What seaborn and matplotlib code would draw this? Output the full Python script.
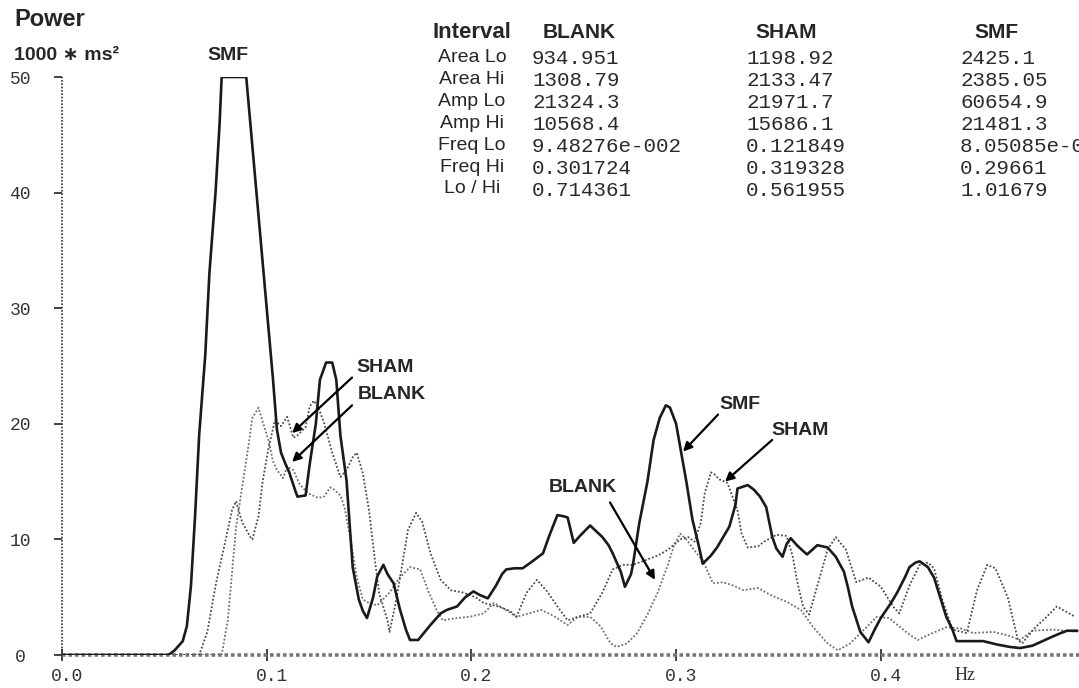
import matplotlib
matplotlib.use("Agg")
import matplotlib.pyplot as plt
from matplotlib.transforms import ScaledTranslation
import pandas as pd
import seaborn as sns

# power spectra: frequency (Hz) / power (1000 * ms^2)
smf_hz = [0.000, 0.052, 0.055, 0.059, 0.061, 0.063, 0.065, 0.067, 0.070, 0.072,
          0.075, 0.077, 0.078, 0.090, 0.092, 0.095, 0.098, 0.101, 0.103, 0.105,
          0.107, 0.109, 0.111, 0.114, 0.115, 0.119, 0.121, 0.124, 0.126, 0.129,
          0.132, 0.134, 0.136, 0.139, 0.142, 0.145, 0.147, 0.149, 0.152, 0.154,
          0.157, 0.159, 0.162, 0.165, 0.168, 0.170, 0.174, 0.180, 0.185, 0.188,
          0.193, 0.197, 0.201, 0.204, 0.208, 0.212, 0.215, 0.217, 0.221, 0.225,
          0.229, 0.235, 0.238, 0.242, 0.245, 0.247, 0.250, 0.253, 0.258, 0.261,
          0.264, 0.267, 0.269, 0.273, 0.275, 0.278, 0.279, 0.282, 0.286, 0.289,
          0.292, 0.295, 0.297, 0.300, 0.302, 0.305, 0.308, 0.311, 0.313, 0.317,
          0.320, 0.323, 0.326, 0.329, 0.330, 0.335, 0.338, 0.341, 0.344, 0.347,
          0.349, 0.352, 0.354, 0.356, 0.359, 0.362, 0.364, 0.369, 0.374, 0.378,
          0.382, 0.384, 0.386, 0.390, 0.394, 0.397, 0.400, 0.405, 0.408, 0.412,
          0.414, 0.417, 0.419, 0.423, 0.426, 0.429, 0.432, 0.435, 0.437, 0.444,
          0.450, 0.457, 0.463, 0.468, 0.474, 0.479, 0.484, 0.488, 0.491, 0.496]
smf_pw = [0, 0, 0.4, 1.2, 2.5, 6, 12, 19, 26, 33,
          40, 46, 50, 50, 46, 40, 34, 28, 24, 19.5,
          17.5, 16.6, 15.8, 14.2, 13.7, 13.8, 16.5, 20, 23.8, 25.3,
          25.3, 23.8, 19, 15.1, 7.6, 4.8, 3.8, 3.2, 5, 6.8,
          7.8, 7, 6.2, 4, 2.2, 1.3, 1.3, 2.6, 3.6, 3.9,
          4.2, 5, 5.5, 5.2, 4.9, 6, 7, 7.4, 7.5, 7.5,
          8, 8.8, 10.3, 12.1, 12, 11.9, 9.7, 10.3, 11.2, 10.7,
          10.2, 9.5, 8.8, 7.2, 5.9, 7, 7.9, 11.4, 15, 18.6,
          20.5, 21.6, 21.4, 20, 18, 15, 11.7, 9.5, 7.9, 8.6,
          9.3, 10.2, 11.1, 13, 14.4, 14.7, 14.3, 13.7, 12.8, 10.2,
          9.2, 8.5, 9.6, 10.1, 9.5, 9.0, 8.7, 9.5, 9.3, 8.5,
          7.2, 5.8, 4.2, 2.0, 1.1, 2.2, 3.2, 4.5, 5.4, 6.8,
          7.6, 8.0, 8.1, 7.6, 6.7, 5.0, 3.3, 2.2, 1.2, 1.2,
          1.2, 0.9, 0.7, 0.6, 0.8, 1.2, 1.6, 1.9, 2.1, 2.1]

sham_hz = [0.000, 0.067, 0.071, 0.075, 0.080, 0.083, 0.085, 0.088, 0.092, 0.093,
           0.096, 0.098, 0.101, 0.104, 0.107, 0.110, 0.113, 0.115, 0.119, 0.121,
           0.123, 0.125, 0.128, 0.132, 0.136, 0.139, 0.142, 0.144, 0.147, 0.150,
           0.153, 0.155, 0.159, 0.160, 0.163, 0.166, 0.169, 0.173, 0.176, 0.180,
           0.185, 0.190, 0.196, 0.202, 0.206, 0.213, 0.219, 0.222, 0.227, 0.232,
           0.237, 0.242, 0.247, 0.252, 0.258, 0.264, 0.269, 0.274, 0.279, 0.285,
           0.291, 0.296, 0.302, 0.306, 0.309, 0.312, 0.314, 0.317, 0.319, 0.321,
           0.325, 0.328, 0.330, 0.332, 0.335, 0.340, 0.343, 0.349, 0.354, 0.357,
           0.359, 0.362, 0.365, 0.369, 0.374, 0.378, 0.383, 0.388, 0.394, 0.400,
           0.406, 0.409, 0.414, 0.419, 0.423, 0.426, 0.430, 0.435, 0.442, 0.447,
           0.452, 0.456, 0.462, 0.467, 0.469, 0.475, 0.481, 0.486, 0.490, 0.495]
sham_pw = [0, 0, 2, 6, 10, 12.5, 13.3, 11.5, 10.2, 10,
           12, 15, 18, 20.3, 19.8, 20.6, 18.8, 19, 19.7, 21.5,
           22, 21.5, 20.1, 17.5, 15.4, 16, 17.1, 17.5, 15.7, 12.5,
           8, 5.3, 3, 2, 4.5, 7.6, 10.8, 12.3, 11.5, 8.8,
           6.5, 5.6, 5.4, 5, 4.5, 4.2, 3.8, 3.3, 5.4, 6.5,
           5.5, 4.2, 3.0, 3.3, 3.6, 5.4, 7.4, 7.8, 7.8, 8.2,
           8.6, 9.1, 10, 10.2, 9.8, 11.4, 14, 15.8, 15.6, 15.2,
           14.9, 13.5, 12.5, 10.5, 9.3, 9.4, 9.8, 10.4, 10.3, 8.5,
           6.5, 4.2, 3.5, 6, 9.1, 10.2, 9.1, 6.3, 6.7, 5.9,
           4.2, 3.6, 6, 7.8, 8.0, 7.5, 4.8, 2.2, 1.9, 5.6,
           7.8, 7.5, 5.0, 1.3, 1.0, 2.3, 3.3, 4.2, 3.8, 3.3]

blank_hz = [0.000, 0.078, 0.081, 0.083, 0.085, 0.088, 0.091, 0.093, 0.096, 0.098,
            0.101, 0.103, 0.105, 0.108, 0.110, 0.113, 0.116, 0.120, 0.125, 0.128,
            0.131, 0.133, 0.136, 0.138, 0.141, 0.144, 0.147, 0.150, 0.154, 0.160,
            0.165, 0.170, 0.175, 0.179, 0.183, 0.186, 0.193, 0.199, 0.206, 0.211,
            0.216, 0.222, 0.228, 0.234, 0.240, 0.247, 0.252, 0.258, 0.263, 0.268,
            0.271, 0.276, 0.281, 0.286, 0.291, 0.296, 0.299, 0.302, 0.305, 0.310,
            0.313, 0.318, 0.323, 0.328, 0.333, 0.340, 0.346, 0.354, 0.361, 0.367,
            0.374, 0.379, 0.385, 0.393, 0.398, 0.404, 0.413, 0.418, 0.424, 0.432,
            0.439, 0.445, 0.455, 0.462, 0.468, 0.474, 0.484, 0.496]
blank_pw = [0, 0, 3, 7, 11, 14.5, 18, 20.5, 21.4, 20.2,
            18.5, 16.8, 16, 15.3, 16.3, 16.0, 14.8, 14, 13.6, 13.7,
            14.5, 14.3, 13.8, 12.8, 10, 6.7, 4.8, 4.5, 4.3, 5.4,
            6.7, 7.6, 7.4, 5.5, 3.9, 3.0, 3.2, 3.3, 3.6, 4.5,
            4.0, 3.3, 3.6, 3.9, 3.4, 2.6, 3.3, 3.3, 2.5, 1.0,
            0.7, 1.0, 1.9, 3.5, 5.4, 7.8, 9.5, 10.5, 10, 8.8,
            8.2, 6.2, 6.3, 6.0, 5.6, 5.8, 5.2, 4.6, 3.9, 2.4,
            1.0, 0.4, 1.0, 2.4, 3.3, 3.2, 1.9, 1.3, 1.8, 2.4,
            2.3, 1.9, 2.0, 1.7, 1.3, 2.1, 2.2, 2.0]

# summary table printed in the top right corner
row_names = ["Area Lo", "Area Hi", "Amp Lo", "Amp Hi", "Freq Lo", "Freq Hi", "Lo / Hi"]
col_names = ["BLANK", "SHAM", "SMF"]
blank_tab = ["934.951", "1308.79", "21324.3", "10568.4", "9.48276e-002", "0.301724", "0.714361"]
sham_tab = ["1198.92", "2133.47", "21971.7", "15686.1", "0.121849", "0.319328", "0.561955"]
smf_tab = ["2425.1", "2385.05", "60654.9", "21481.3", "8.05085e-002", "0.29661", "1.01679"]

x_ticks = [0.0, 0.1, 0.2, 0.3, 0.4]
y_ticks = [0, 10, 20, 30, 40, 50]

sns.set_style("white")
plt.rcParams["font.family"] = ["Liberation Sans", "DejaVu Sans"]

W, H = 1079, 688
fig = plt.figure(figsize=(W / 100, H / 100), dpi=100)
ax = fig.add_axes([62 / W, 33 / H, 1017 / W, 578 / H])


def fpos(x, y):
    # pixel position on the page -> figure fraction
    return x / W, 1 - y / H


df_smf = pd.DataFrame({"Hz": smf_hz, "Power": smf_pw})
df_sham = pd.DataFrame({"Hz": sham_hz, "Power": sham_pw})
df_blank = pd.DataFrame({"Hz": blank_hz, "Power": blank_pw})

sns.lineplot(data=df_blank, x="Hz", y="Power", ax=ax, estimator=None,
             color="#6e6e6e", lw=1.3, linestyle=(0, (1, 1.1)))
sns.lineplot(data=df_sham, x="Hz", y="Power", ax=ax, estimator=None,
             color="#4a4a4a", lw=1.3, linestyle=(0, (1, 1.1)))
sns.lineplot(data=df_smf, x="Hz", y="Power", ax=ax, estimator=None,
             color="#1a1a1a", lw=1.9)

ax.set_xlim(0, 1017 / 2047)
ax.set_ylim(0, 50)
for s in ax.spines.values():
    s.set_visible(False)

# old-style axes: dotted y axis, hatched baseline
ax.plot([0, 0], [0, 50], color="#333333", lw=1.2, ls=(0, (1, 1)), clip_on=False)
ax.axhline(0, color="#777777", lw=2.6, ls=(0, (1, 0.8)), clip_on=False, zorder=1)

mono = ["Liberation Mono", "DejaVu Sans Mono"]
ax.set_xticks(x_ticks)
ax.set_xticklabels([f"{v:.1f}" for v in x_ticks], family=mono, fontsize=13, color="#333333")
ax.set_yticks(y_ticks)
ax.set_yticklabels([str(v) for v in y_ticks], family=mono, fontsize=13, color="#333333",
                   ha="center")
ax.tick_params(axis="x", direction="inout", length=9, width=1.2, color="#222222", pad=5,
               bottom=True)
ax.tick_params(axis="y", direction="out", length=6, width=1.2, color="#222222", pad=24,
               left=True)
for lab in ax.get_xticklabels():
    lab.set_transform(lab.get_transform() + ScaledTranslation(0.05, 0, fig.dpi_scale_trans))
ax.set_xlabel("")
ax.set_ylabel("")

fig.text(*fpos(965, 676), "Hz", family=["Liberation Serif", "DejaVu Serif"], fontsize=13,
         ha="center", va="center", color="#333333")

# axis titles
fig.text(*fpos(14, 20), "Power", fontsize=17, fontweight="bold", ha="left", va="center")
fig.text(*fpos(14, 56), "1000 \u2217 ms\u00b2", fontsize=14, fontweight="bold",
         ha="left", va="center")
fig.text(*fpos(228, 55), "SMF", fontsize=14, fontweight="bold", ha="center", va="center")

# summary table
fig.text(*fpos(472, 32), "Interval", fontsize=16, fontweight="bold", ha="center", va="center")
for name, x in zip(col_names, [543, 755, 974]):
    fig.text(*fpos(x, 32), name, fontsize=15, fontweight="bold", ha="left", va="center")
label_y = [57, 79, 101, 123, 145, 167, 189]
for name, y in zip(row_names, label_y):
    fig.text(*fpos(472, y), name, fontsize=14, ha="center", va="center")
for col, x in zip([blank_tab, sham_tab, smf_tab], [532, 746, 960]):
    for val, y in zip(col, label_y):
        fig.text(*fpos(x, y + 1), val, family=mono, fontsize=15, color="#2a2a2a",
                 ha="left", va="center")

# labels with arrows pointing at the curves
arrow = dict(arrowstyle="-|>", lw=1.6, color="black", mutation_scale=13,
             shrinkA=0, shrinkB=0)
notes = [("SHAM", (0.1124, 19.2), (0.1417, 24.0), (0.158, 24.9)),
         ("BLANK", (0.1124, 16.7), (0.1417, 21.6), (0.161, 22.5)),
         ("SMF", (0.3034, 17.6), (0.3205, 20.8), (0.3312, 21.7)),
         ("SHAM", (0.3239, 15.0), (0.3469, 18.6), (0.3605, 19.4)),
         ("BLANK", (0.2897, 6.5), (0.2677, 13.2), (0.2545, 14.5))]
for text, tip, tail, pos in notes:
    ax.annotate("", xy=tip, xytext=tail, arrowprops=arrow)
    ax.text(pos[0], pos[1], text, fontsize=14, fontweight="bold", ha="center", va="center")

fig.savefig("out.png", dpi=100, facecolor="white")
